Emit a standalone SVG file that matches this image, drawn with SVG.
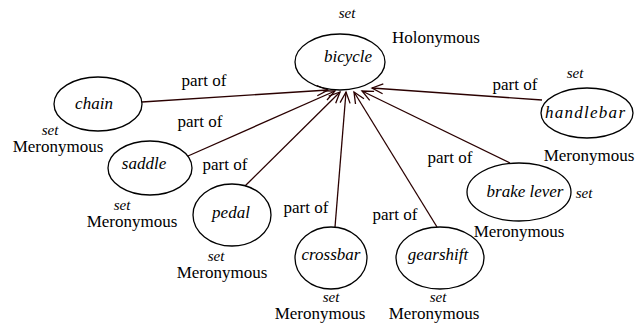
<svg xmlns="http://www.w3.org/2000/svg" width="636" height="327" viewBox="0 0 636 327">
<rect fill="#fff" width="636" height="327"/>
<g id="connectors" stroke="#2a0000" stroke-width="1.3" fill="none">
<line x1="142" y1="102" x2="328" y2="90"/>
<line x1="188" y1="156" x2="335" y2="91"/>
<line x1="245" y1="186" x2="340" y2="92"/>
<line x1="335" y1="227" x2="346" y2="92"/>
<line x1="437" y1="227" x2="354" y2="92"/>
<line x1="510" y1="163" x2="362" y2="91"/>
<line x1="542" y1="100" x2="372" y2="88"/>
<polyline points="317.3,95.7 328,90 316.7,85.7"/>
<polyline points="327,100 335,91 322.9,90.9"/>
<polyline points="335.7,103.3 340,92 328.7,96.2"/>
<polyline points="350.1,103.4 346,92 340.1,102.6"/>
<polyline points="364,98.8 354,92 355.5,104"/>
<polyline points="374.1,91.3 362,91 369.7,100.3"/>
<polyline points="383.3,83.8 372,88 382.6,93.8"/>
</g>
<g id="edge-labels" fill="#000" text-anchor="middle">
<text font-family="Liberation Serif" font-size="17" x="204" y="86">part of</text>
<text font-family="Liberation Serif" font-size="17" x="200" y="127">part of</text>
<text font-family="Liberation Serif" font-size="17" x="225" y="170">part of</text>
<text font-family="Liberation Serif" font-size="17" x="306" y="213">part of</text>
<text font-family="Liberation Serif" font-size="17" x="395" y="220">part of</text>
<text font-family="Liberation Serif" font-size="17" x="450" y="163">part of</text>
<text font-family="Liberation Serif" font-size="17" x="515" y="90">part of</text>
</g>
<g id="bicycle" fill="#000" text-anchor="middle">
<ellipse cx="340" cy="62" rx="45" ry="28" fill="none" stroke="#000" stroke-width="1.3"/>
<text font-family="Liberation Serif" font-style="italic" font-size="17" x="348" y="62">bicycle</text>
<text font-family="Liberation Serif" font-style="italic" font-size="15" x="347" y="18">set</text>
<text font-family="Liberation Serif" font-size="17" text-anchor="start" x="392" y="43">Holonymous</text>
</g>
<g id="chain" fill="#000" text-anchor="middle">
<ellipse cx="98" cy="104" rx="44" ry="27" fill="none" stroke="#000" stroke-width="1.3"/>
<text font-family="Liberation Serif" font-style="italic" font-size="17" x="94" y="109">chain</text>
<text font-family="Liberation Serif" font-style="italic" font-size="15" x="50" y="135">set</text>
<text font-family="Liberation Serif" font-size="17" x="58" y="152">Meronymous</text>
</g>
<g id="saddle" fill="#000" text-anchor="middle">
<ellipse cx="150" cy="168" rx="42" ry="27" fill="none" stroke="#000" stroke-width="1.3"/>
<text font-family="Liberation Serif" font-style="italic" font-size="17" x="144" y="169">saddle</text>
<text font-family="Liberation Serif" font-style="italic" font-size="15" x="122" y="210">set</text>
<text font-family="Liberation Serif" font-size="17" x="132" y="227">Meronymous</text>
</g>
<g id="pedal" fill="#000" text-anchor="middle">
<ellipse cx="232" cy="215" rx="39" ry="31" fill="none" stroke="#000" stroke-width="1.3"/>
<text font-family="Liberation Serif" font-style="italic" font-size="17" x="231" y="218">pedal</text>
<text font-family="Liberation Serif" font-style="italic" font-size="15" x="216" y="261">set</text>
<text font-family="Liberation Serif" font-size="17" x="222" y="278">Meronymous</text>
</g>
<g id="crossbar" fill="#000" text-anchor="middle">
<ellipse cx="331" cy="258" rx="36" ry="31" fill="none" stroke="#000" stroke-width="1.3"/>
<text font-family="Liberation Serif" font-style="italic" font-size="17" x="331" y="260">crossbar</text>
<text font-family="Liberation Serif" font-style="italic" font-size="15" x="331" y="302">set</text>
<text font-family="Liberation Serif" font-size="17" x="320" y="319">Meronymous</text>
</g>
<g id="gearshift" fill="#000" text-anchor="middle">
<ellipse cx="440" cy="258" rx="44" ry="31" fill="none" stroke="#000" stroke-width="1.3"/>
<text font-family="Liberation Serif" font-style="italic" font-size="17" x="438" y="260">gearshift</text>
<text font-family="Liberation Serif" font-style="italic" font-size="15" x="438" y="302">set</text>
<text font-family="Liberation Serif" font-size="17" x="434" y="319">Meronymous</text>
</g>
<g id="brakelever" fill="#000" text-anchor="middle">
<ellipse cx="519" cy="192" rx="52" ry="29" fill="none" stroke="#000" stroke-width="1.3"/>
<text font-family="Liberation Serif" font-style="italic" font-size="17" x="525" y="197">brake lever</text>
<text font-family="Liberation Serif" font-style="italic" font-size="15" x="584" y="198">set</text>
<text font-family="Liberation Serif" font-size="17" x="519" y="237">Meronymous</text>
</g>
<g id="handlebar" fill="#000" text-anchor="middle">
<ellipse cx="587" cy="113" rx="46" ry="25" fill="none" stroke="#000" stroke-width="1.3"/>
<text font-family="Liberation Serif" font-style="italic" font-size="17" x="585" y="118" textLength="80" lengthAdjust="spacing">handlebar</text>
<text font-family="Liberation Serif" font-style="italic" font-size="15" x="575" y="78">set</text>
<text font-family="Liberation Serif" font-size="17" x="589" y="161">Meronymous</text>
</g>
</svg>
